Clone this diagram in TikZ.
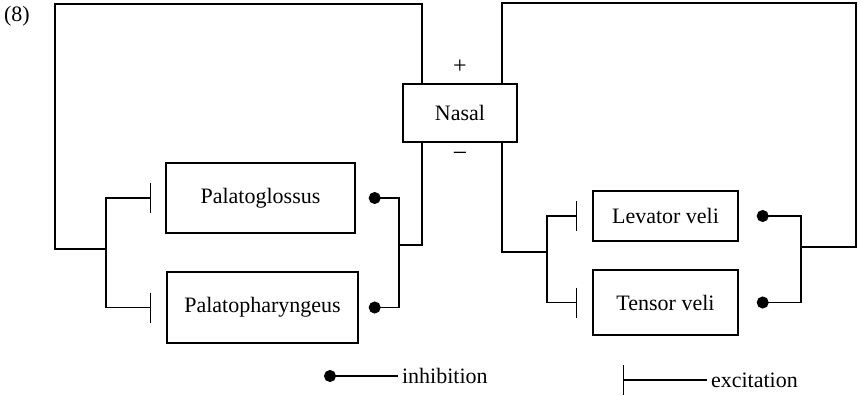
\documentclass[tikz,border=0pt]{standalone}
\usepackage{fontspec}
\setmainfont{Liberation Serif}
\usetikzlibrary{arrows.meta}
\begin{document}
\begin{tikzpicture}[x=1pt, y=-1pt, line width=1.4pt, font=\fontsize{22}{26}\selectfont]
    \tikzstyle{box}=[draw, inner sep=0pt];
    \tikzstyle{inh}=[-{Circle[length=12pt]}];
    \tikzstyle{exc}=[-{Bar[width=30pt]}];

    \useasboundingbox (0,0) rectangle (862,396);

    \node (num) at (17,16) {(8)};

    \node (nasal) at (460,113) [box, minimum width=114pt, minimum height=58pt] {Nasal};
    \node (plus) at (460,67) [font=\fontsize{24}{28}\selectfont] {+};
    \node (minus) at (460,157) [font=\fontsize{26}{30}\selectfont] {−};

    \node (pg) at (260.5,198) [box, minimum width=189pt, minimum height=70pt] {Palatoglossus};
    \node (pp) at (262.5,307.5) [box, minimum width=191pt, minimum height=71pt] {Palatopharyngeus};

    \node (lv) at (665.5,216) [box, minimum width=145pt, minimum height=50pt] {Levator veli};
    \node (tv) at (665.5,302.5) [box, minimum width=145pt, minimum height=65pt] {Tensor veli};

    \coordinate (lt1) at (55,4);
    \coordinate (lt2) at (422,4);
    \coordinate (lfork) at (106,249);
    \coordinate (ljoin) at (399,245);

    \coordinate (rt1) at (502,3);
    \coordinate (rt2) at (856,3);
    \coordinate (rfork) at (547,252);
    \coordinate (rjoin) at (801,247);

    % left loop
    \draw (nasal.north -| lt2) -- (lt2) -- (lt1) |- (lfork);
    \draw[exc, shorten >=14pt] (lfork) |- (pg.west);
    \draw[exc, shorten >=15pt] (lfork) |- (pp.west);
    \draw (nasal.south -| lt2) |- (ljoin);
    \draw[inh, shorten >=13pt] (ljoin) |- (pg.east);
    \draw[inh, shorten >=10pt] (ljoin) |- (pp.east);

    % right loop
    \draw (nasal.north -| rt1) -- (rt1) -- (rt2) |- (rjoin);
    \draw[inh, shorten >=18pt] (rjoin) |- (lv.east);
    \draw[inh, shorten >=18pt] (rjoin) |- (tv.east);
    \draw (nasal.south -| rt1) |- (rfork);
    \draw[exc, shorten >=15pt] (rfork) |- (lv.west);
    \draw[exc, shorten >=15pt] (rfork) |- (tv.west);

    % legend
    \node (inhtxt) at (398,376) [anchor=west] {inhibition};
    \coordinate (inhdot) at (324,376);
    \draw[inh] (inhtxt.west) -- (inhdot);

    \node (exctxt) at (707,380) [anchor=west] {excitation};
    \coordinate (excbar) at (623,380);
    \draw[exc] (exctxt.west) -- (excbar);

\end{tikzpicture}
\end{document}
